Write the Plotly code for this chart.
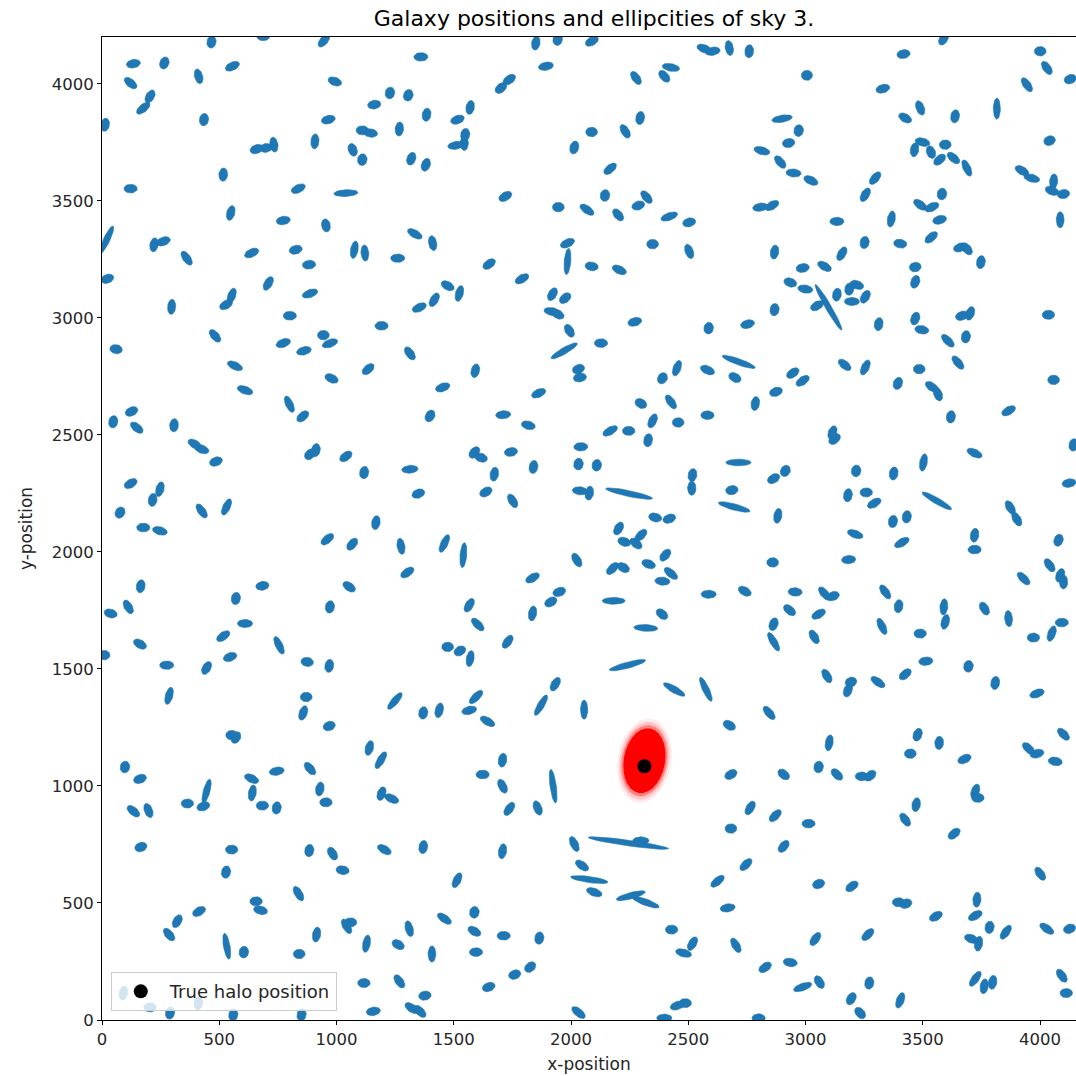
import numpy as np
import plotly.graph_objects as go

# ---------------- galaxy data (x, y, orientation angle in deg, ellipticity) ----------------
# region: top-left
x1 = [467,688,946,134,266,412,556,122,176,205, 13,435,993,1360,1228,1306,1161,965,1384,1110, 1145,1268,908,659,699,733,1069,1110,1319,1381, 517,122,837,1040,549,773,955,1334,20,222, 262,361,638,826,883,1076,1121,1261,23]
y1 = [4179,4203,4184,4086,4089,4032,4075,4003,3896,3946, 3825,3847,4010,4115,3961,3951,3911,3847,3868,3801, 3790,3807,3754,3721,3726,3740,3718,3676,3680,3654, 3612,3552,3552,3533,3448,3416,3395,3359,3334,3312, 3327,3255,3277,3291,3227,3291,3277,3255,3167]
a1 = [80,0,50,10,70,105,25,-40,40,60, 80,80,-20,0,80,70,10,15,80,0, -10,85,85,20,10,100,110,80,70,70, 85,0,25,3,75,10,100,-30,65,80, 20,-55,25,15,5,80,95,0,20]
e1 = [.15,.2,.3,.25,.15,.3,.3,.3,.35,.25, .2,.15,.25,.25,.1,.1,.2,.25,.2,.15, .25,.25,.3,.2,.2,.3,.2,.1,.2,.2, .2,.2,.3,.56,.3,.25,.2,.35,.65,.25, .25,.35,.3,.2,.2,.4,.35,.25,.2]

# region: top-middle
x2 = [1850,1943,2089,1893,1701,1737,2277,2426,2398,2568, 2604,2675,2760,1570,1516,1549,1509,1545,2088,2295, 2231,2014,2167,1720,1946,2068,2145,2201,2287,2322, 2419,2504,1410,1985,1985,2348,2504,1651,2088,2206, 1791]
y2 = [4174,4189,4182,4075,3982,4018,4025,4070,4032,4150, 4139,4153,4139,3899,3847,3783,3737,3747,3794,3854, 3797,3728,3637,3519,3473,3462,3523,3440,3480,3516, 3433,3408,3319,3319,3241,3315,3284,3230,3220,3205, 3167]
a2 = [80,80,30,10,40,35,-55,-10,-50,-20, 10,100,85,80,20,80,10,90,0,80, -60,75,40,30,0,-35,80,-50,20,-50, 20,15,100,25,85,0,110,35,-10,-25, 30]
e2 = [.25,.1,.25,.3,.2,.25,.3,.4,.25,.3, .3,.3,.2,.25,.25,.15,.35,.3,.1,.2, .3,.2,.3,.25,.1,.35,.1,.25,.2,.3, .4,.2,.3,.3,.6,.1,.3,.25,.2,.3, .3]

# region: top-right
x3 = [3589,3418,3006,4001,4029,4129,3944,3330,3489,3425, 3638,3816,2900,2971,2928,2814,2892,2949,3023,4041, 3465,3499,3535,3596,3572,3631,3688,3923,3965,4058, 4051,4100,3297,3255,3582,3489,3539,2807,2857,3366, 3572,4086,3134,3252,3404,3536,3660,3688,2868,3155, 3748,2988,3081,3468]
y3 = [4193,4127,4036,4139,4068,4020,3996,3979,3897,3854, 3861,3894,3851,3800,3747,3714,3666,3619,3587,3757, 3718,3751,3708,3740,3676,3683,3640,3629,3597,3583, 3543,3529,3597,3526,3529,3483,3473,3473,3480,3422, 3419,3419,3412,3322,3317,3344,3301,3295,3281,3274, 3238,3213,3220,3217]
a3 = [60,10,0,0,-55,20,-55,15,-70,-30, 80,90,10,80,10,-15,-50,-5,-25,20, 80,-15,110,0,40,-40,-65,-30,-15,85, -20,10,50,60,80,-35,25,10,30,80, 15,90,0,80,-10,40,20,-50,80,60, 80,10,-30,10]
e3 = [.25,.2,.05,.1,.3,.15,.35,.25,.3,.25, .2,.5,.49,.1,.15,.35,.3,.3,.3,.1, .25,.3,.2,.1,.25,.3,.4,.3,.35,.3, .25,.15,.3,.3,.1,.3,.3,.3,.3,.35, .25,.35,.25,.15,.2,.3,.25,.25,.25,.3, .2,.2,.3,.1]

# region: upper-middle-left
x4 = [709,297,553,529,887,801,1353,1192,482,944, 972,773,861,1313,60,567,1135,979,610,799, 856,126,48,148,307,396,425,486,887,912, 1040,1118,1313,1349,122,247,216,77,425,531, 1168]
y4 = [3147,3047,3094,3056,3104,3009,3044,2966,2923,2926, 2891,2892,2859,2848,2866,2795,2781,2741,2691,2631, 2579,2600,2556,2531,2541,2460,2439,2386,2417,2435, 2408,2339,2353,2249,2292,2268,2222,2168,2175,2192, 2125]
a4 = [60,85,70,30,20,0,25,0,-50,0, 20,20,15,-55,-10,-25,40,-25,-20,-65, 40,25,80,-40,85,-30,-20,20,45,80, 35,80,5,20,30,75,80,60,-55,65, 80]
e4 = [.3,.3,.35,.25,.35,.2,.3,.2,.3,.1, .35,.3,.3,.3,.15,.35,.25,.25,.35,.4, .25,.2,.15,.3,.2,.3,.3,.2,.15,.2, .25,.15,.35,.2,.25,.3,.2,.1,.35,.4, .25]

# region: upper-middle-centre
x5 = [1474,1524,1417,1921,1975,1919,1943,1993,2272,2587, 2753,1971,2128,2032,2038,1592,1453,1862,2390,2452, 2582,2715,2699,1399,1711,1818,2298,2426,2582,2348, 2457,2167,2246,2329,2042,1588,1616,1744,2032,2110, 1840,1673,2518,2515,2714,1637,1751,2038,2078,2248, 2686,2696,2359,2419]
y5 = [3137,3104,3077,3101,3084,3027,3016,2945,2983,2956, 2973,2859,2892,2781,2745,2774,2703,2678,2742,2785, 2777,2812,2745,2581,2586,2541,2634,2641,2584,2560, 2553,2517,2517,2477,2449,2425,2403,2427,2375,2370, 2363,2332,2328,2272,2382,2256,2218,2261,2251,2249, 2264,2192,2147,2142]
a5 = [-30,75,60,60,40,-10,-30,-60,15,80, 15,30,0,20,10,75,20,25,60,70, -25,-20,-30,60,5,-15,-30,-55,0,65, 0,30,0,80,0,50,-20,10,80,80, 80,80,80,90,0,30,-60,-5,80,-12, 10,-15,-15,20]
e5 = [.25,.35,.3,.25,.2,.35,.25,.25,.25,.1, .25,.65,.2,.15,.2,.25,.3,.3,.1,.35, .3,.7,.2,.15,.3,.25,.15,.35,.2,.3, .1,.35,.15,.2,.25,.2,.2,.2,.1,.1, .2,.25,.2,.25,.58,.2,.3,.3,.25,.78, .15,.68,.2,.2]

# region: upper-middle-right
x6 = [2935,2999,3098,3049,3134,3187,3219,3198,3255,3468, 2868,3312,3468,3496,3667,3702,3607,3684,4036,3167, 3255,2946,2988,2874,2786,3485,3394,3539,3565,3650, 4058,3866,3620,3115,3124,4143,3721,3503,3216,3376, 2914,2864,4124,3181,3259,3293,3560,2882,3373,3432, 3873,3901]
y6 = [3151,3123,3045,3052,3099,3123,3141,3070,3090,3154, 3035,2973,2997,2949,3009,3019,2902,2919,3013,2799, 2788,2764,2731,2684,2634,2781,2720,2705,2674,2809, 2735,2603,2577,2510,2482,2457,2422,2382,2346,2335, 2346,2313,2294,2242,2254,2208,2218,2154,2130,2150, 2190,2140]
a6 = [-20,-10,-60,30,80,80,-20,0,60,70, 80,80,70,-10,20,70,-45,80,0,-40, 65,35,35,20,80,0,70,-35,-70,-50, 0,30,80,70,40,80,-25,80,80,80, 60,30,10,80,0,30,-30,80,80,80, -60,-60]
e6 = [.2,.3,.8,.25,.2,.15,.25,.3,.25,.2, .15,.2,.2,.25,.2,.25,.35,.15,.15,.3, .35,.25,.3,.2,.25,.1,.15,.3,.25,.35, .1,.3,.15,.25,.2,.15,.35,.4,.1,.2, .1,.2,.25,.2,.15,.3,.69,.3,.15,.15, .3,.3]

# region: lower-middle-left
x7 = [176,247,961,1067,1275,1302,165,684,1054,571, 37,112,972,610,517,755,162,9,546,276, 446,875,969,286,871,858,1249,1370,969,553, 571,1140,1189,98,745,887]
y7 = [2104,2090,2054,2033,2024,1912,1853,1855,1851,1801, 1737,1765,1765,1694,1640,1601,1606,1559,1551,1516, 1504,1530,1513,1385,1380,1312,1363,1312,1256,1217, 1207,1162,1110,1081,1063,1074]
a7 = [0,-15,40,50,100,35,80,10,-35,80, -15,-60,80,0,35,-65,-30,0,20,0, 60,-10,80,75,0,70,50,80,20,0, 60,75,60,80,10,-50]
e7 = [.2,.3,.3,.25,.35,.3,.2,.2,.25,.15, .2,.3,.15,.3,.3,.45,.25,.1,.25,.25, .25,.15,.2,.4,.1,.3,.5,.15,.15,.1, .15,.3,.45,.1,.3,.3]

# region: lower-middle-centre
x8 = [2203,1460,1541,2025,1836,2227,2277,2298,2177,2223, 2331,2402,2426,2390,2587,2741,1950,1914,1566,1836, 2182,2388,1602,2319,1730,1474,1526,1570,2241,2440, 2575,1933,1872,1595,1566,1438,2056,1644,2675,1708]
y8 = [2100,2036,1986,1965,1889,2043,2036,2071,1929,1933, 1948,1986,1908,1875,1819,1832,1829,1786,1772,1737, 1791,1734,1690,1675,1616,1594,1577,1544,1516,1412, 1413,1435,1345,1380,1323,1323,1326,1276,1259,1110]
a8 = [60,65,85,-60,30,-20,-40,45,45,-30, -20,50,-40,-5,0,-30,20,30,60,80, 0,-40,-45,-3,55,0,30,80,15,-30, -65,60,60,45,15,75,90,-30,-30,80]
e8 = [.25,.45,.58,.3,.3,.2,.25,.3,.3,.2, .25,.25,.35,.3,.3,.25,.2,.2,.3,.3, .54,.2,.35,.56,.3,.1,.15,.35,.72,.57, .6,.3,.55,.4,.3,.3,.45,.35,.2,.25]

# region: lower-middle-right
x9 = [3212,3411,3721,3721,4079,2860,3184,4041,4086,4100, 3930,2956,3081,3117,3340,3397,3590,3596,2932,3056, 3763,3866,2864,2864,3037,3326,3489,3972,4050,4093, 3513,3695,3091,3194,3181,3309,3425,3809,3987,2845, 3478,3570,3101,3447,3678,4100,3951,3987,4065,3056]
y9 = [2076,2040,2071,2010,2050,1955,1967,1943,1900,1872, 1886,1829,1822,1811,1829,1768,1765,1701,1751,1734, 1758,1715,1691,1616,1637,1682,1651,1634,1651,1698, 1533,1511,1470,1444,1409,1444,1477,1440,1395,1312, 1219,1184,1184,1138,1115,1221,1160,1138,1105,1081]
a9 = [-20,30,80,0,70,0,5,-55,70,90, -45,-5,-50,20,-55,80,85,75,-40,30, -60,95,70,-60,-60,-65,0,0,70,0, 5,80,-60,20,70,-35,40,80,20,-50, 70,85,80,0,25,-45,-45,15,-10,80]
e9 = [.35,.35,.25,.2,.15,.1,.25,.3,.25,.25, .35,.25,.35,.2,.35,.2,.35,.3,.25,.3, .25,.35,.2,.5,.3,.4,.15,.15,.35,.2, .25,.1,.3,.1,.25,.35,.25,.2,.3,.35, .2,.2,.35,.1,.25,.3,.3,.25,.25,.1]

# region: bottom-left
x10 = [162,638,446,432,364,134,198,641,684,745, 929,955,1192,1235,166,553,884,983,1026,1204, 1370,529,838,657,676,414,321,286,532,605, 841,915,1043,1060,1128,1263,1310,1117,1268,1377, 1157,1320,1356,290,560,851,91,205,411]
y10 = [1030,1031,977,913,925,892,895,970,916,906, 987,930,967,946,739,728,724,711,640,728, 739,632,540,507,469,464,422,365,315,290, 282,365,400,417,326,322,390,158,165,104, 37,51,37,30,22,22,115,54,72]
a10 = [20,-25,75,20,0,-40,-70,80,0,80, 80,0,70,-25,20,0,80,-60,-10,-30, 80,80,-60,0,-15,30,60,-50,100,80, 0,80,-60,0,80,-30,105,0,-55,10, 10,-35,-45,80,80,80,80,0,80]
e10 = [.2,.3,.58,.2,.15,.3,.3,.35,.15,.15, .25,.15,.25,.3,.15,.15,.15,.25,.2,.3, .2,.15,.35,.15,.25,.25,.25,.3,.6,.1, .1,.3,.35,.15,.4,.2,.35,.15,.3,.15, .25,.3,.3,.15,.15,.15,.25,.15,.2]

# region: bottom-middle
x11 = [1623,1924,2682,1708,1737,1858,2764,2682,1708,2014, 2245,2298,2047,2078,2099,2255,2319,2746,2625,2668, 1514,1460,1588,1588,1713,1865,1407,1595,2429,2518, 2480,2703,1826,1760,1649,2032,2454,2487,2398]
y11 = [1049,999,1049,999,902,906,906,818,721,752, 756,766,660,600,546,531,503,664,593,479, 597,433,460,379,360,350,282,290,386,326, 286,319,226,194,141,32,62,72,8]
a11 = [0,98,30,-65,55,-70,60,0,80,-65, -8,0,-35,-8,-20,15,-20,45,40,10, 65,-35,80,-30,0,80,90,0,0,60, -15,-60,40,20,20,-40,20,0,0]
e11 = [.2,.69,.2,.3,.3,.3,.3,.1,.3,.35, .87,.35,.3,.72,.35,.65,.63,.3,.35,.3, .35,.35,.1,.25,.2,.15,.35,.2,.15,.3, .35,.35,.15,.15,.2,.35,.3,.15,.3]

# region: bottom-right
x12 = [2907,3134,3240,3276,2871,3013,2907,3425,3472,3724, 3735,3634,3056,3198,3397,3428,3556,3731,3724,3785, 3854,4001,4029,4126,3707,3738,3042,3266,2828,2935, 2988,3059,3272,3195,3404,3724,3762,3798,4093,4112, 2800,3233]
y12 = [1049,1049,1041,1044,873,839,742,856,920,977, 949,796,581,571,503,497,443,514,446,396, 375,625,390,390,347,326,346,365,225,246, 141,162,158,91,84,176,144,161,189,115, 8,30]
a12 = [-40,-45,0,40,45,0,50,-55,80,70, 0,40,20,35,0,20,30,85,30,80, 55,-55,-35,20,-20,80,55,45,35,-10, 20,-60,80,60,70,55,80,80,-55,0, 0,-50]
e12 = [.2,.25,.2,.2,.3,.2,.25,.3,.25,.3, .15,.25,.15,.25,.15,.15,.25,.3,.3,.15, .35,.3,.35,.15,.25,.3,.3,.3,.25,.25, .45,.25,.15,.2,.35,.4,.3,.25,.3,.15, .2,.2]

# halo: true position and posterior cloud summary
true_halo_x = [2313]
true_halo_y = [1084]
post_center = (2313, 1108)
post_semi_axes = (88, 140)
post_tilt = 80

tick_values = [0, 500, 1000, 1500, 2000, 2500, 3000, 3500, 4000]

SIZE = 45
BLUE = "#1f77b4"

regions = [(x1, y1, a1, e1), (x2, y2, a2, e2), (x3, y3, a3, e3),
           (x4, y4, a4, e4), (x5, y5, a5, e5), (x6, y6, a6, e6),
           (x7, y7, a7, e7), (x8, y8, a8, e8), (x9, y9, a9, e9),
           (x10, y10, a10, e10), (x11, y11, a11, e11), (x12, y12, a12, e12)]

t = np.linspace(0, 2 * np.pi, 29)
ex_all, ey_all = [], []
for i, (xs, ys, angs, es) in enumerate(regions):
    n = len(xs)
    if not (len(ys) == n and len(angs) == n and len(es) == n):
        import sys
        print("region", i + 1, "length mismatch", len(xs), len(ys), len(angs), len(es), file=sys.stderr)
    for x, y, ang, d in zip(xs, ys, angs, es):
        w = SIZE / (1 - d) / 2
        h = SIZE / (1 + d) / 2
        th = np.radians(ang)
        cx = w * np.cos(t)
        cy = h * np.sin(t)
        X = x + cx * np.cos(th) - cy * np.sin(th)
        Y = y + cx * np.sin(th) + cy * np.cos(th)
        ex_all.extend(X.tolist() + [None])
        ey_all.extend(Y.tolist() + [None])

fig = go.Figure()
fig.add_trace(go.Scatter(x=ex_all, y=ey_all, mode="lines", fill="toself",
                         fillcolor=BLUE, line=dict(color=BLUE, width=0.6),
                         hoverinfo="skip", showlegend=False))

# posterior cloud (soft red blob)
for scale, alpha in [(1.30, 0.08), (1.20, 0.15), (1.10, 0.35), (1.0, 1.0)]:
    th = np.radians(post_tilt)
    a_ax = post_semi_axes[1] * scale
    b_ax = post_semi_axes[0] * scale
    cx = a_ax * np.cos(t)
    cy = b_ax * np.sin(t)
    X = post_center[0] + cx * np.cos(th) - cy * np.sin(th)
    Y = post_center[1] + cx * np.sin(th) + cy * np.cos(th)
    fig.add_trace(go.Scatter(x=X, y=Y, mode="lines", fill="toself",
                             fillcolor=f"rgba(255,0,0,{alpha})",
                             line=dict(width=0), hoverinfo="skip", showlegend=False))

fig.add_trace(go.Scatter(x=true_halo_x, y=true_halo_y, mode="markers",
                         marker=dict(color="black", size=14),
                         name="True halo position"))

W = 1076
fig.update_layout(
    width=W, height=W,
    margin=dict(l=102, r=0, t=37, b=56),
    plot_bgcolor="white", paper_bgcolor="white",
    font=dict(family="DejaVu Sans", size=16, color="#262626"),
    title=dict(text="Galaxy positions and ellipcities of sky 3.", x=594 / W, xanchor="center",
               y=1 - 18 / W, yanchor="middle", font=dict(size=22, color="black")),
    showlegend=True,
    legend=dict(x=0.009, y=0.009, xanchor="left", yanchor="bottom",
                bgcolor="rgba(255,255,255,0.8)", bordercolor="#cccccc", borderwidth=1,
                itemwidth=48, font=dict(size=18, color="#262626")),
    xaxis=dict(range=[0, 974 / 0.2345], showgrid=False, zeroline=False,
               showline=True, linecolor="black", linewidth=1, mirror=True,
               ticks="outside", ticklen=4, tickcolor="black",
               tickvals=tick_values, tickfont=dict(size=16.5),
               title=dict(text="x-position", standoff=10, font=dict(size=17)), automargin=False),
    yaxis=dict(range=[0, 4200], showgrid=False, zeroline=False,
               showline=True, linecolor="black", linewidth=1,
               ticks="outside", ticklen=4, tickcolor="black",
               tickvals=tick_values, tickfont=dict(size=16.5),
               title=dict(text="y-position", standoff=14, font=dict(size=17)), automargin=False),
)

fig.write_html("out.html")
